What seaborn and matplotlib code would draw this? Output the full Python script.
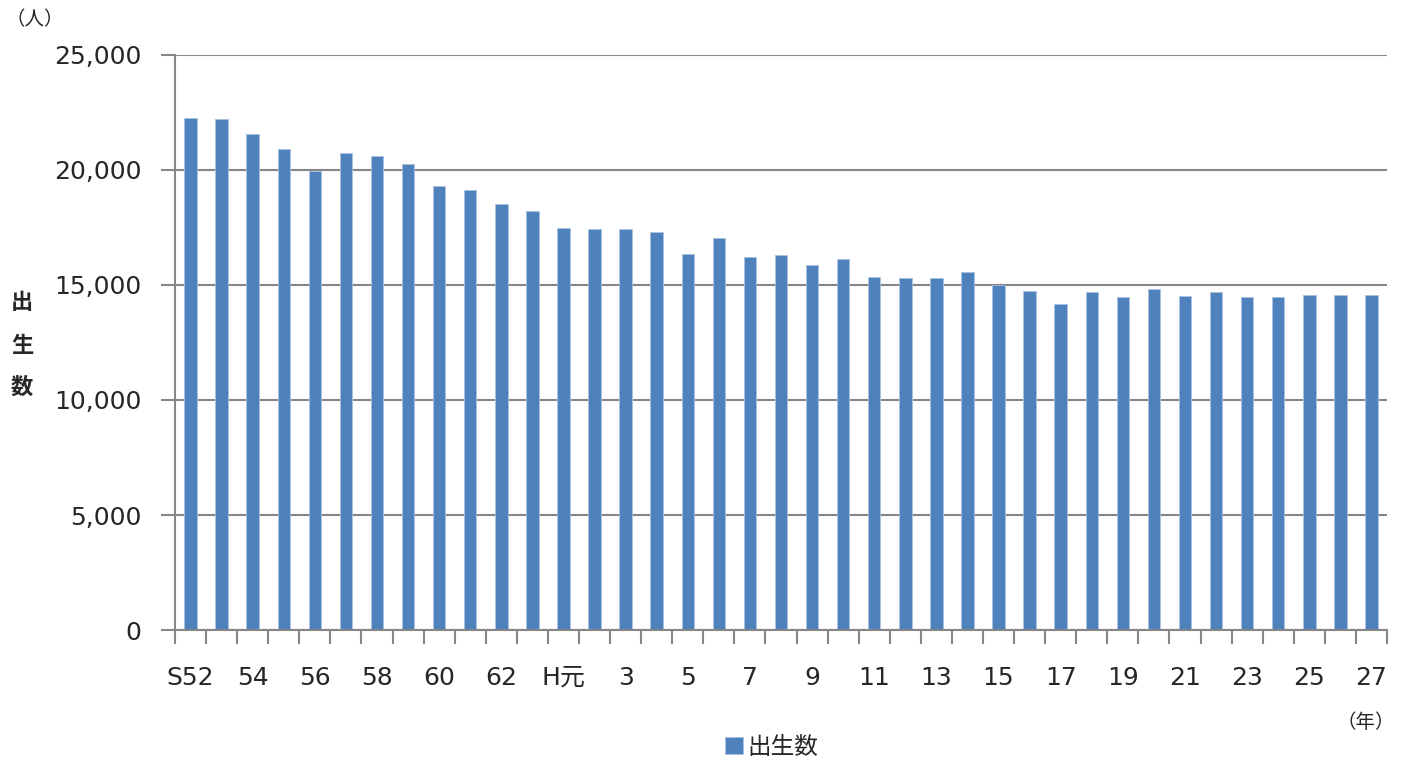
import numpy as np
import pandas as pd
import seaborn as sns
import matplotlib.pyplot as plt

# 年 (S52 - H27)
years = ["S52", "S53", "S54", "S55", "S56", "S57", "S58", "S59", "S60", "S61", "S62", "S63",
         "H元", "H2", "H3", "H4", "H5", "H6", "H7", "H8", "H9", "H10", "H11", "H12", "H13",
         "H14", "H15", "H16", "H17", "H18", "H19", "H20", "H21", "H22", "H23", "H24", "H25",
         "H26", "H27"]
births = [22277, 22233, 21580, 20927, 19952, 20723, 20592, 20257, 19316, 19125, 18533, 18198,
          17471, 17414, 17444, 17314, 16356, 17053, 16209, 16326, 15860, 16152, 15355, 15324,
          15294, 15572, 14990, 14746, 14180, 14715, 14497, 14833, 14510, 14715, 14467, 14467,
          14584, 14555, 14584]
tick_labels = ["S52", "54", "56", "58", "60", "62", "H元", "3", "5", "7", "9", "11", "13",
               "15", "17", "19", "21", "23", "25", "27"]

df = pd.DataFrame({"year": years, "births": births})

sns.set_style("white")
plt.rcParams["font.family"] = ["DejaVu Sans", "Noto Sans CJK JP"]

fig = plt.figure(figsize=(14.02, 7.60), dpi=100)
ax = fig.add_axes([175 / 1402, 130 / 760, 1212 / 1402, 575 / 760])

sns.barplot(data=df, x="year", y="births", color="#4F81BD", width=0.4, saturation=1,
            edgecolor="#a9c2e0", linewidth=0.6, label="出生数", ax=ax)

gray = "#868686"
ax.set_ylim(0, 25000)
ax.set_xlim(-0.5, len(years) - 0.5)
ax.set_yticks(np.arange(0, 25001, 5000))
ax.set_yticklabels([f"{v:,}" for v in range(0, 25001, 5000)])
ax.yaxis.grid(True, color=gray, linewidth=1.5)
ax.set_axisbelow(True)

ax.set_xticks(np.arange(0, len(years), 2))
ax.set_xticklabels(tick_labels)
ax.set_xticks(np.arange(-0.5, len(years), 1), minor=True)
ax.tick_params(axis="x", which="major", length=0, pad=26, labelsize=18)
ax.tick_params(axis="x", which="minor", length=10, width=1.5, color=gray,
               direction="out", bottom=True)
ax.tick_params(axis="y", length=10, width=1.5, color=gray, pad=14, labelsize=18, left=True)

for side in ["top", "right"]:
    ax.spines[side].set_visible(False)
for side in ["left", "bottom"]:
    ax.spines[side].set_color(gray)
    ax.spines[side].set_linewidth(1.5)

ax.set_xlabel("")
ax.set_ylabel("")

cjk = ["Noto Sans CJK JP"]
fig.text(22 / 1402, 1 - 345 / 760, "出\n生\n数", fontsize=16, fontweight="bold",
         ha="center", va="center", linespacing=2.1, family=cjk)
fig.text(35 / 1402, 1 - 20 / 760, "（人）", fontsize=14, ha="center", va="center", family=cjk)
fig.text(1366 / 1402, 1 - 722 / 760, "（年）", fontsize=14, ha="center", va="center", family=cjk)

ax.legend(loc="center", bbox_to_anchor=(772 / 1402, 1 - 747 / 760),
          bbox_transform=fig.transFigure, frameon=False,
          prop={"family": cjk, "size": 17},
          handlelength=0.75, handleheight=0.75, handletextpad=0.2)

plt.savefig("out.png", dpi=100)
